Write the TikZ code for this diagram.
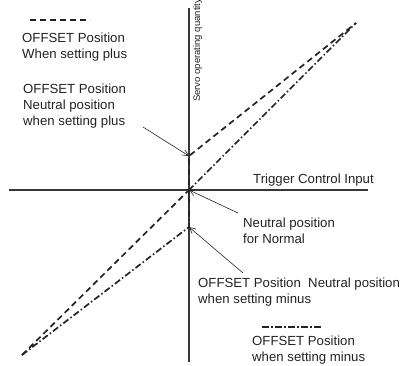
\documentclass[tikz,border=0pt]{standalone}
\usepackage{fontspec}
\setmainfont{Liberation Sans}
\usepackage{tikz}
\usetikzlibrary{arrows.meta, positioning}
\definecolor{mydark}{RGB}{35,35,35}
\definecolor{myaxis}{RGB}{55,55,55}
\tikzset{
  lbl/.style={font=\fontsize{13.2}{16}\selectfont, align=left,
    inner sep=0pt, anchor=base west, text=mydark},
  servolbl/.style={font=\fontsize{9.5}{11}\selectfont, rotate=90,
    inner sep=0pt, anchor=base west, text=mydark},
  axis/.style={line width=1.1pt, color=myaxis},
  plusline/.style={line width=1.7pt, color=mydark, dash pattern=on 6pt off 4pt},
  minusline/.style={line width=1.7pt, color=mydark,
    dash pattern=on 6.5pt off 2.5pt on 1.5pt off 2.5pt},
  pointer/.style={-{Straight Barb[length=6pt, width=6pt]}, line width=0.6pt, color=mydark}
}

\begin{document}
\begin{tikzpicture}[x=1pt, y=-1pt]
  \useasboundingbox (0,0) rectangle (406,365);

  % Points
  \coordinate (O) at (189,190);
  \coordinate (ytop) at (189,8);
  \coordinate (ybot) at (189,362);
  \coordinate (xleft) at (9,190);
  \coordinate (xright) at (368,190);
  \coordinate (lowleft) at (22,355);
  \coordinate (upright) at (356,23);
  \coordinate (pluszero) at (189,156);
  \coordinate (minuszero) at (189,227);

  % Axes
  \draw[axis] (ytop) -- (ybot);
  \draw[axis] (xleft) -- (xright);

  % Curves
  \draw[plusline] (lowleft) -- (O) -- (pluszero) -- (upright);
  \draw[minusline] (lowleft) -- (minuszero) -- (O) -- (upright);

  % Nodes (anchored on the baseline of the last line)
  \node[lbl] (legplus) at (22,58) {OFFSET Position\\When setting plus};
  \node[lbl] (plusneu) at (23,125) {OFFSET Position\\Neutral position\\when setting plus};
  \node[lbl] (trigger) at (253,183) {Trigger Control Input};
  \node[lbl] (normal) at (243,243) {Neutral position\\for Normal};
  \node[lbl] (minusneu) at (198,303) {OFFSET Position\ \ Neutral position\\when setting minus};
  \node[lbl] (legminus) at (252,361) {OFFSET Position\\when setting minus};
  \node[servolbl] (servo) at (200,102) {Servo operating quantity};

  % Legend lines
  \coordinate (lp1) at (30,20);
  \coordinate (lp2) at (90,20);
  \coordinate (lm1) at (262,327);
  \coordinate (lm2) at (323,327);
  \draw[plusline, line width=1.3pt] (lp1) -- (lp2);
  \draw[minusline, line width=1.3pt] (lm1) -- (lm2);

  % Arrows
  \coordinate (plustail) at (143,127);
  \coordinate (normaltail) at (238,213);
  \coordinate (minustail) at (243,273);
  \draw[pointer] (plustail) -- (pluszero);
  \draw[pointer] (normaltail) -- (O);
  \draw[pointer] (minustail) -- (minuszero);
\end{tikzpicture}
\end{document}
